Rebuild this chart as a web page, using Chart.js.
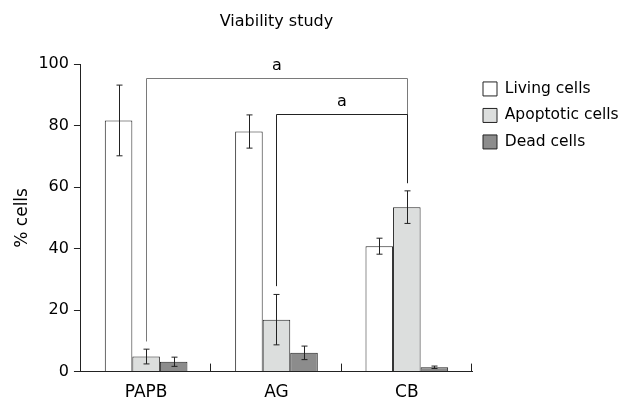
<!DOCTYPE html>
<html>
<head>
<meta charset="utf-8">
<script src="https://cdn.jsdelivr.net/npm/chart.js@4"></script>
<style>
  html, body { margin: 0; padding: 0; background: #fff; }
  #wrap { width: 628px; height: 401px; }
</style>
</head>
<body>
<div id="wrap"><canvas id="chart" width="628" height="401"></canvas></div>
<script>
// Viability study: % cells per treatment, with SD error bars

const groups = ['PAPB', 'AG', 'CB'];
const seriesNames = ['Living cells', 'Apoptotic cells', 'Dead cells'];

const livingCells    = [81.7, 78.1, 40.8];
const apoptoticCells = [4.9, 16.9, 53.5];
const deadCells      = [3.2, 6.1, 1.4];

const livingErr    = [11.5, 5.4, 2.6];
const apoptoticErr = [2.4, 8.2, 5.3];
const deadErr      = [1.5, 2.2, 0.4];

const yTicks = [0, 20, 40, 60, 80, 100];

// significance brackets (between apoptotic bars)
const bracketFrom      = ['PAPB', 'AG'];
const bracketTo        = ['CB', 'CB'];
const bracketLevel     = [95.5, 83.7];
const bracketFromEnd   = [9.8, 27.8];
const bracketToEnd     = [61.3, 61.3];
const bracketLabels    = ['a', 'a'];

const FONT = 'DejaVu Sans';
const fills = ['#ffffff', '#dcdedd', '#8c8c8c'];
const errs = [livingErr, apoptoticErr, deadErr];

const errorBars = {
  id: 'errorBars',
  afterDatasetsDraw(chart) {
    const ctx = chart.ctx;
    const y = chart.scales.y;
    ctx.save();
    ctx.strokeStyle = '#222';
    ctx.lineWidth = 1;
    chart.data.datasets.forEach((ds, di) => {
      const meta = chart.getDatasetMeta(di);
      meta.data.forEach((bar, i) => {
        const v = ds.data[i], e = errs[di][i];
        const x = Math.round(bar.x) + 0.5;
        const top = y.getPixelForValue(v + e);
        const bot = y.getPixelForValue(Math.max(0, v - e));
        ctx.beginPath();
        ctx.moveTo(x, top); ctx.lineTo(x, bot);
        ctx.moveTo(x - 3, top); ctx.lineTo(x + 3, top);
        ctx.moveTo(x - 3, bot); ctx.lineTo(x + 3, bot);
        ctx.stroke();
      });
    });
    ctx.restore();
  }
};

const brackets = {
  id: 'brackets',
  afterDraw(chart) {
    const ctx = chart.ctx;
    const xs = chart.scales.x, y = chart.scales.y;
    const meta = chart.getDatasetMeta(1); // apoptotic bars
    ctx.save();
    ctx.lineWidth = 1;
    ctx.font = '16px "' + FONT + '"';
    ctx.textAlign = 'center';
    ctx.textBaseline = 'alphabetic';
    bracketFrom.forEach((g, k) => {
      const x1 = Math.round(meta.data[groups.indexOf(g)].x) + 0.5;
      const x2 = Math.round(meta.data[groups.indexOf(bracketTo[k])].x) + 0.5;
      const yl = Math.round(y.getPixelForValue(bracketLevel[k])) + 0.5;
      ctx.strokeStyle = k === 0 ? '#7a7a7a' : '#222';
      ctx.beginPath();
      ctx.moveTo(x1, y.getPixelForValue(bracketFromEnd[k]));
      ctx.lineTo(x1, yl);
      ctx.lineTo(x2, yl);
      ctx.lineTo(x2, y.getPixelForValue(bracketToEnd[k]));
      ctx.stroke();
      ctx.fillStyle = '#000';
      ctx.fillText(bracketLabels[k], (x1 + x2) / 2, yl - 9);
    });
    // small upward ticks at category boundaries on the x axis
    const half = (xs.getPixelForValue(1) - xs.getPixelForValue(0)) / 2;
    const yb = chart.chartArea.bottom;
    ctx.strokeStyle = '#222';
    ctx.beginPath();
    groups.forEach((g, i) => {
      const xt = Math.round(xs.getPixelForValue(i) + half) - 0.5;
      ctx.moveTo(xt, yb); ctx.lineTo(xt, yb - 8);
    });
    ctx.stroke();
    ctx.restore();
  }
};

new Chart(document.getElementById('chart'), {
  type: 'bar',
  data: {
    labels: groups,
    datasets: [livingCells, apoptoticCells, deadCells].map((d, i) => ({
      label: seriesNames[i],
      data: d,
      backgroundColor: fills[i],
      borderColor: '#222',
      borderWidth: 1,
      barPercentage: 1,
      categoryPercentage: 0.634
    }))
  },
  options: {
    responsive: false,
    animation: false,
    devicePixelRatio: 1,
    layout: { padding: { left: 4, right: 0, top: 0, bottom: -13 } },
    plugins: {
      title: {
        display: true,
        fullSize: false,
        text: 'Viability study',
        color: '#000',
        font: { family: FONT, size: 16, weight: 'normal' },
        padding: { top: 12, bottom: 33 }
      },
      legend: {
        position: 'right',
        align: 'start',
        fullSize: false,
        title: { display: true, text: ' ', font: { size: 5 }, padding: 0 },
        labels: {
          color: '#000',
          font: { family: FONT, size: 15.5 },
          boxWidth: 14,
          boxHeight: 14,
          padding: 11,
          generateLabels(chart) {
            return chart.data.datasets.map((ds, i) => ({
              text: ds.label,
              fillStyle: ds.backgroundColor,
              strokeStyle: '#222',
              fontColor: '#000',
              lineWidth: 1,
              datasetIndex: i
            }));
          }
        }
      },
      tooltip: { enabled: false }
    },
    scales: {
      x: {
        grid: { display: false, drawTicks: false },
        border: { color: '#222', width: 1 },
        ticks: { color: '#000', padding: 11, font: { family: FONT, size: 17 } }
      },
      y: {
        min: 0,
        max: 100,
        afterBuildTicks(scale) { scale.ticks = yTicks.map(v => ({ value: v })); },
        grid: { drawOnChartArea: false, color: '#222', tickLength: 7 },
        border: { color: '#222', width: 1 },
        ticks: { color: '#000', padding: 5, font: { family: FONT, size: 16 } },
        title: {
          display: true,
          text: '% cells',
          color: '#000',
          font: { family: FONT, size: 17 },
          padding: { top: 8, bottom: 1 }
        }
      }
    }
  },
  plugins: [errorBars, brackets]
});
</script>
</body>
</html>
